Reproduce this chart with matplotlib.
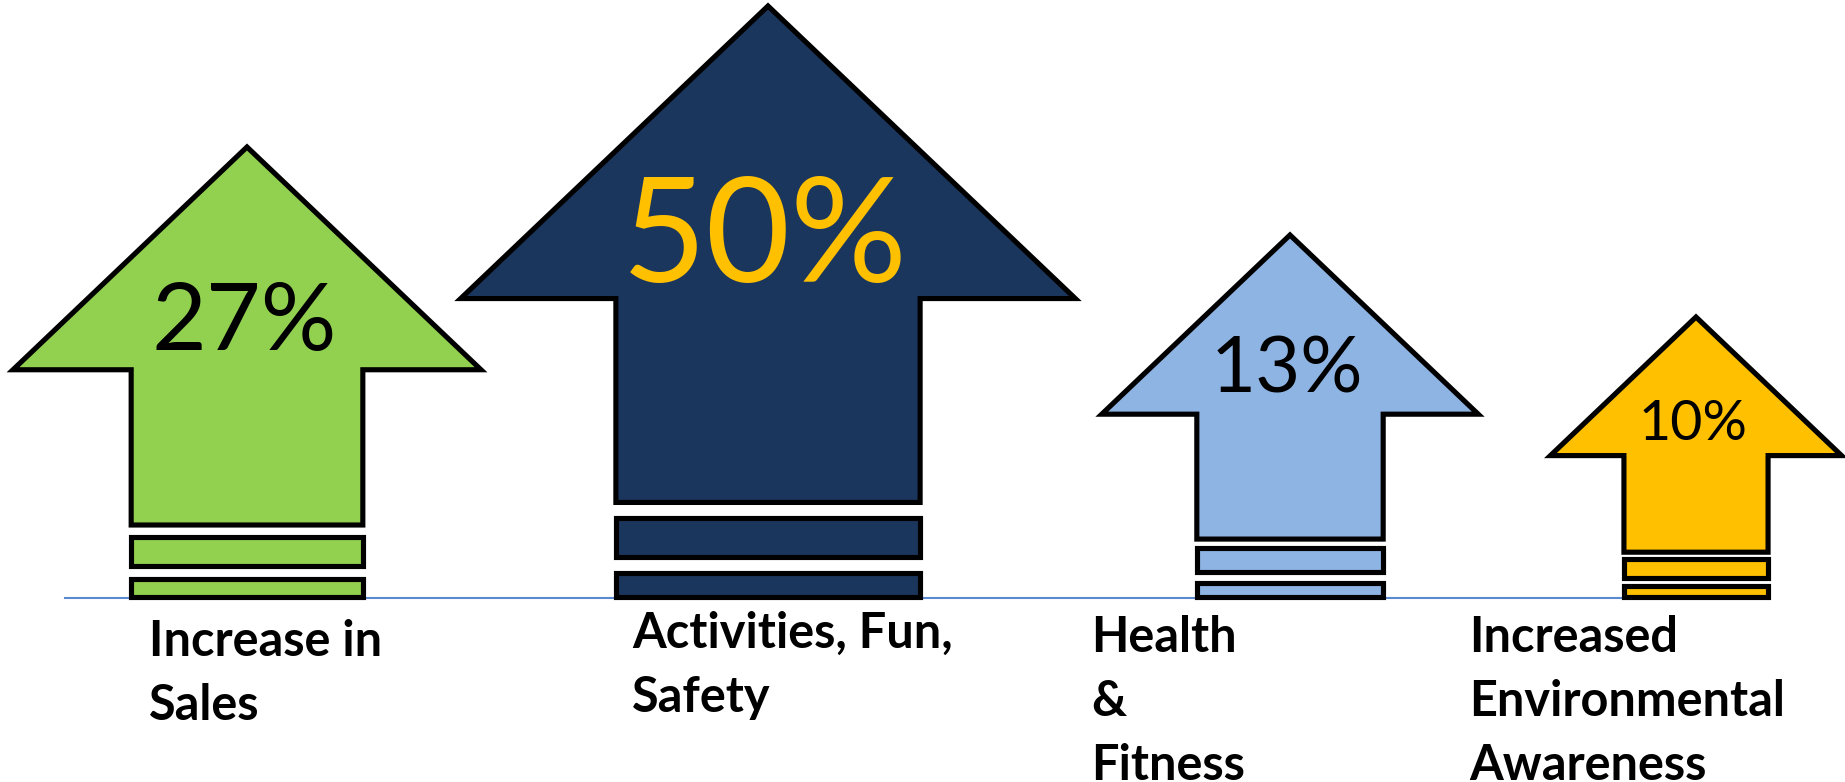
import matplotlib.pyplot as plt
from matplotlib.patches import Polygon, Rectangle

# Chart data
labels = [["Increase in", "Sales"], ["Activities, Fun,", "Safety"],
          ["Health", "&", "Fitness"], ["Increased", "Environmental", "Awareness"]]
values = [27, 50, 13, 10]

# Styling / layout (pixel space of a 1845x782 canvas)
fill_colors = ["#92D050", "#1B365D", "#8EB4E3", "#FFC000"]
text_colors = ["black", "#FFC000", "black", "black"]
value_sizes = [68, 105, 56, 40]
value_pos = [0.375, 0.378, 0.358, 0.367]
centers = [247, 768, 1290, 1696]
tops = [147, 6, 235, 317]
label_x = [149, 632, 1091, 1469]
label_y = [638, 630, 635, 635]
line_gap = 64
base = 597

plt.rcParams['font.family'] = ['Lato', 'DejaVu Sans']

fig = plt.figure(figsize=(18.45, 7.82), dpi=100)
ax = fig.add_axes([0, 0, 1, 1])
ax.set_xlim(0, 1845)
ax.set_ylim(782, 0)
ax.axis('off')

# baseline
ax.plot([65, 1742], [598, 598], color='#5A8AD0', lw=1.5, zorder=1)

lw = 3.7
for i in range(len(values)):
    cx, top = centers[i], tops[i]
    h = base - top
    w = 1.04 * h
    sw = 0.495 * w
    head_y = top + 0.495 * h
    shaft_y = top + 0.84 * h
    pts = [(cx, top), (cx + w / 2, head_y), (cx + sw / 2, head_y), (cx + sw / 2, shaft_y),
           (cx - sw / 2, shaft_y), (cx - sw / 2, head_y), (cx - w / 2, head_y)]
    ax.add_patch(Polygon(pts, closed=True, facecolor=fill_colors[i], edgecolor='black',
                         lw=lw, joinstyle='miter', zorder=2))
    # the two stripes under the arrow
    for y0, y1 in [(0.866, 0.932), (0.96, 1.0)]:
        ax.add_patch(Rectangle((cx - sw / 2, top + y0 * h), sw, (y1 - y0) * h,
                               facecolor=fill_colors[i], edgecolor='black', lw=lw,
                               joinstyle='miter', zorder=2))
    fs_px = value_sizes[i] * 100 / 72
    ax.text(cx - 3, top + value_pos[i] * h + 0.36 * fs_px, f"{values[i]}%",
            ha='center', va='baseline', fontsize=value_sizes[i],
            color=text_colors[i], zorder=3)
    for k, line in enumerate(labels[i]):
        ax.text(label_x[i], label_y[i] + k * line_gap + 0.36 * 35 * 100 / 72, line,
                ha='left', va='baseline', fontsize=35, fontweight='bold',
                color='black')

fig.savefig("out.png", dpi=100)
